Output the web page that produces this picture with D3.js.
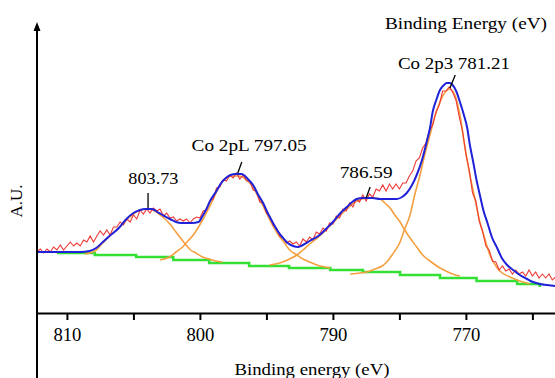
<!DOCTYPE html>
<html><head><meta charset="utf-8">
<script src="https://cdn.jsdelivr.net/npm/d3@7"></script>
<style>
html,body{margin:0;padding:0;background:#fff;}
svg{display:block;}
svg text{font-family:"Liberation Serif","Times New Roman",Tinos,serif !important;fill:#000;}
</style></head>
<body>
<svg id="chart" width="555" height="378"></svg>
<script>
// ---- Data (binding energy eV, intensity A.U.) ----
const measured = [
[812.25,61],[812.0,64],[811.75,60],[811.5,64],[811.25,61],[811.0,66],[810.75,63],[810.5,68],[810.25,63],[810.0,67],
[809.75,71],[809.5,67],[809.25,70],[809.0,67],[808.75,73],[808.5,71],[808.25,77],[808.0,71],[807.75,77],[807.5,82],
[807.25,78],[807.0,83],[806.75,78],[806.5,86],[806.25,86],[806.0,91],[805.75,88],[805.5,94],[805.25,91],[805.0,98],
[804.75,94],[804.5,103],[804.25,99],[804.0,104],[803.75,100],[803.5,105],[803.25,102],[803.0,104],[802.75,97],[802.5,100],
[802.25,95],[802.0,96],[801.75,92],[801.5,94],[801.25,92],[801.0,94],[800.75,90],[800.5,94],[800.25,96],[800.0,95],
[799.75,102],[799.5,103],[799.25,112],[799.0,114],[798.75,125],[798.5,126],[798.25,133],[798.0,132],[797.75,138],[797.5,135],
[797.25,140],[797.0,134],[796.75,138],[796.5,132],[796.25,132],[796.0,123],[795.75,122],[795.5,111],[795.25,110],[795.0,100],
[794.75,97],[794.5,88],[794.25,85],[794.0,77],[793.75,75],[793.5,70],[793.25,72],[793.0,69],[792.75,71],[792.5,67],
[792.25,74],[792.0,71],[791.75,76],[791.5,73],[791.25,81],[791.0,79],[790.75,85],[790.5,82],[790.25,90],[790.0,89],
[789.75,97],[789.5,95],[789.25,104],[789.0,102],[788.75,110],[788.5,106],[788.25,114],[788.0,111],[787.75,118],[787.5,112],
[787.25,119],[787.0,116],[786.75,124],[786.5,122],[786.25,128],[786.0,122],[785.75,129],[785.5,124],[785.25,129],[785.0,124],
[784.75,130],[784.5,130],[784.25,137],[784.0,142],[783.75,152],[783.5,155],[783.25,165],[783.0,170],[782.75,182],[782.5,188],
[782.25,201],[782.0,208],[781.75,222],[781.5,222],[781.25,226],[781.0,221],[780.75,213],[780.5,196],[780.25,182],[780.0,159],
[779.75,143],[779.5,120],[779.25,112],[779.0,92],[778.75,82],[778.5,67],[778.25,63],[778.0,52],[777.75,51],[777.5,43],
[777.25,47],[777.0,42],[776.75,44],[776.5,39],[776.25,43],[776.0,39],[775.75,41],[775.5,37],[775.25,43],[775.0,37],
[774.75,41],[774.5,35],[774.25,39],[774.0,35],[773.75,39],[773.5,33],[773.25,36]
];
const envelope = [
[812.25,61],[811.3,61],[810.5,61],[809.8,61],[809.0,61],[808.3,62],[807.8,65],[807.3,71],[806.8,77],[806.1,85],
[805.6,93],[805.0,100],[804.5,103],[804.1,104],[803.6,104],[803.2,101],[802.8,98],[802.25,94],[801.8,91],[801.4,90],
[801.05,90],[800.6,90],[800.1,91],[799.8,97],[799.55,103],[799.2,113],[798.8,121],[798.4,130],[798.05,135],[797.7,138],
[797.3,139],[796.9,139],[796.7,138],[796.4,134],[796.0,128],[795.65,119],[795.25,110],[794.9,100],[794.5,90],[794.15,82],
[793.75,75],[793.4,70],[793.0,67],[792.6,66],[792.25,68],[791.75,72],[791.0,78],[790.45,85],[790.0,91],[789.5,99],
[788.95,106],[788.55,111],[788.2,114],[787.8,115],[787.45,115],[787.05,115],[786.45,114],[785.7,114],[785.2,114],[784.8,116],
[784.45,120],[784.05,128],[783.7,138],[783.3,153],[782.95,171],[782.7,185],[782.5,201],[782.2,214],[781.95,223],[781.65,228],
[781.45,230],[781.2,230],[781.0,228],[780.7,221],[780.45,211],[780.15,198],[779.9,185],[779.7,168],[779.45,151],[779.2,133],
[778.95,118],[778.65,101],[778.4,91],[778.05,76],[777.65,65],[777.3,55],[776.9,48],[776.45,43],[775.95,38],[775.4,34],
[774.95,31],[774.45,29],[773.9,28],[773.3,27]
];
const peak803 = [
[808.65,59],[807.9,62],[807.3,70],[806.8,77],[806.1,85],[805.6,92],[805.0,99],[804.5,103],[803.9,104],[803.4,102],
[802.8,96],[802.25,89],[801.8,81],[801.4,74],[801.05,68],[800.7,63],[800.3,60],[799.8,56],[799.3,54],[798.8,52],[798.3,51]
];
const peak797 = [
[803.0,53],[802.3,56],[801.8,61],[801.3,66],[800.9,72],[800.5,78],[800.15,85],[799.8,93],[799.4,103],[799.0,114],
[798.65,124],[798.3,132],[797.9,136],[797.5,137],[797.15,137],[796.8,136],[796.4,132],[796.0,126],[795.65,117],[795.25,107],
[794.9,97],[794.5,87],[794.15,79],[793.75,72],[793.25,63],[792.7,58],[792.25,54],[791.75,51],[791.2,48],[790.2,45]
];
const peak786 = [
[794.75,48],[794.0,50],[793.25,54],[792.7,58],[792.25,63],[791.75,69],[791.0,77],[790.45,84],[790.0,90],[789.5,97],
[788.95,104],[788.55,109],[788.2,112],[787.8,114],[787.45,115],[787.05,115],[786.45,114],[786.1,110],[785.7,105],[785.35,98],
[784.95,91],[784.6,83],[784.2,75],[783.7,66],[783.25,58],[782.7,52],[781.95,45],[781.35,41],[780.8,38],[780.45,37]
];
const peak781 = [
[788.7,39],[787.95,40],[787.45,41],[786.85,44],[786.3,47],[785.95,51],[785.5,59],[784.95,71],[784.6,84],[784.2,98],
[783.85,118],[783.45,138],[783.1,158],[782.7,178],[782.35,196],[781.95,211],[781.6,220],[781.2,224],[780.8,217],[780.45,198],
[780.1,168],[779.7,138],[779.3,113],[778.95,91],[778.55,73],[778.2,58],[777.8,48],[777.45,42],[776.7,36],[775.95,32],[775.2,29]
];
const background = [
[810.75,60],[807.9,58],[804.8,56],[802.0,53],[799.3,50],[796.3,47],[793.3,45],[790.2,43],[787.75,41],[784.95,38],
[781.95,35],[779.2,32],[776.15,29],[774.45,26]
];
const tickValues = [810,805,800,795,790,785,780,775];
const tickLabels = {810:"810",800:"800",790:"790",780:"770"};
// annotations: label, text anchor point, leader line from -> to (all in data units)
const annotations = [
  {text:"803.73",        at:[803.5,129], from:[803.9,120], to:[803.9,105], w:50},
  {text:"Co 2pL 797.05", at:[796.3,162], from:[796.85,151], to:[797.15,140], w:115},
  {text:"786.59",        at:[787.5,135], from:[787.2,126], to:[787.5,115], w:53},
  {text:"Co 2p3 781.21", at:[780.9,244], from:[780.8,238], to:[781.2,225], w:112}
];
const xTitle = "Binding energy (eV)";
const topTitle = "Binding Energy (eV)";
const yTitle = "A.U.";

// ---- Chart ----
const W = 555, H = 378;
const FONT = '"Liberation Serif","Times New Roman",Tinos,serif';
const svg = d3.select("#chart");
const x = d3.scaleLinear().domain([812.25, 773.3]).range([37, 555]);
const y = d3.scaleLinear().domain([0, 290]).range([313, 23]);
const line = d3.line().x(d => x(d[0])).y(d => y(d[1])).curve(d3.curveLinear);
const smooth = d3.line().x(d => x(d[0])).y(d => y(d[1])).curve(d3.curveMonotoneX);

const plot = svg.append("g");
plot.append("path").datum(background).attr("d", d3.line().x(d=>x(d[0])).y(d=>y(d[1])).curve(d3.curveStepAfter))
  .attr("fill","none").attr("stroke","#35e035").attr("stroke-width",2.6);
[peak803, peak797, peak786, peak781].forEach(p => {
  plot.append("path").datum(p).attr("d", smooth).attr("fill","none")
    .attr("stroke","#f4a040").attr("stroke-width",1.6);
});
plot.append("path").datum(measured).attr("d", line).attr("fill","none")
  .attr("stroke","#ee3a35").attr("stroke-width",1.1);
plot.append("path").datum(envelope).attr("d", smooth).attr("fill","none")
  .attr("stroke","#1f22d8").attr("stroke-width",2);

// axes
const xAxis = d3.axisBottom(x).tickValues(tickValues).tickSize(7).tickSizeOuter(0)
  .tickFormat(d => tickLabels[d] || "");
const gx = svg.append("g").attr("transform", `translate(0,${y(0)})`).call(xAxis);
gx.attr("font-family", null).attr("font-size", null);
gx.select(".domain").attr("stroke","#000").attr("stroke-width",2);
gx.selectAll(".tick line").attr("stroke","#000").attr("stroke-width",2);
gx.selectAll(".tick text").attr("y",15).style("font-size","18px").style("font-family",FONT)
  .attr("fill","#000")
  .attr("textLength", d => tickLabels[d] ? 28 : null).attr("lengthAdjust","spacingAndGlyphs");

// y axis with arrow
svg.append("line").attr("x1",x.range()[0]).attr("x2",x.range()[0])
  .attr("y1", y.range()[1]+4).attr("y2", H).attr("stroke","#000").attr("stroke-width",2);
const ax = x.range()[0], ay = y.range()[1];
svg.append("path").attr("d",`M${ax},${ay-1} L${ax-3.5},${ay+8} L${ax+3.5},${ay+8} Z`).attr("fill","#000");

// annotations
annotations.forEach(a => {
  svg.append("line").attr("x1",x(a.from[0])).attr("y1",y(a.from[1]))
    .attr("x2",x(a.to[0])).attr("y2",y(a.to[1])).attr("stroke","#000").attr("stroke-width",1.3);
  svg.append("text").attr("x",x(a.at[0])).attr("y",y(a.at[1])).attr("text-anchor","middle")
    .style("font-size","17px").attr("textLength",a.w).attr("lengthAdjust","spacingAndGlyphs").text(a.text);
});

// titles
svg.append("text").attr("x",466).attr("y",29).attr("text-anchor","middle").style("font-size","17px")
  .attr("textLength",162).attr("lengthAdjust","spacingAndGlyphs").text(topTitle);
svg.append("text").attr("x",312).attr("y",375).attr("text-anchor","middle").style("font-size","17px")
  .attr("textLength",155).attr("lengthAdjust","spacingAndGlyphs").text(xTitle);
svg.append("text").attr("transform","translate(22,201) rotate(-90)").attr("text-anchor","middle")
  .style("font-size","17px").text(yTitle);
</script>
</body></html>
